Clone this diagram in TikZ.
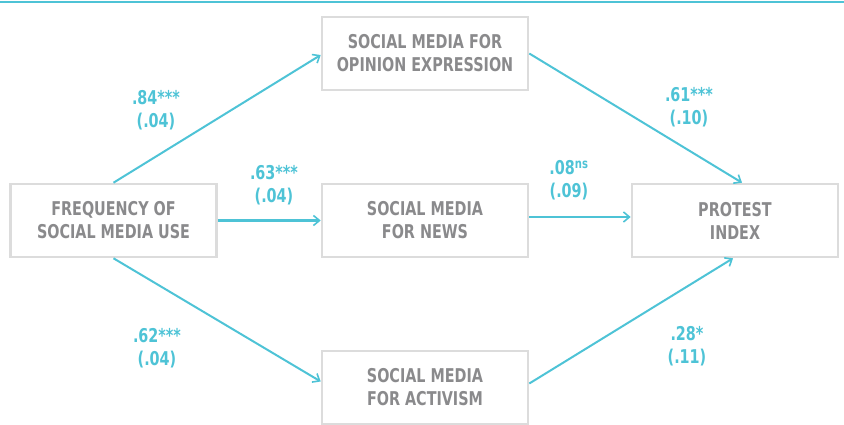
\documentclass[tikz,border=0pt]{standalone}
\usepackage{fontspec}
\setmainfont{DejaVu Sans Condensed}[BoldFont={DejaVu Sans Condensed Bold}, FakeStretch=0.84]
\usetikzlibrary{arrows.meta}
\definecolor{cy}{HTML}{4EC3D6}
\definecolor{bxgray}{HTML}{DCDCDC}
\definecolor{txgray}{HTML}{8A8A8C}
\tikzset{
  box/.style={draw=bxgray, line width=2.6pt, minimum width=206pt, minimum height=73pt,
    align=center, text=txgray, font=\bfseries\fontsize{19}{23}\selectfont, inner sep=0pt},
  conn/.style={draw=cy, line width=2pt, -{Straight Barb[length=6pt,width=10pt,line width=1.6pt]}},
  coef/.style={text=cy, align=center, font=\bfseries\fontsize{19}{23}\selectfont, inner sep=0pt}
}
\begin{document}
\begin{tikzpicture}[x=1pt,y=-1pt]
\useasboundingbox (0,0) rectangle (844,425);
\draw[cy, line width=2.4pt] (0,2) coordinate (tl) -- (844,2) coordinate (tr);
\node[box] (freq) at (113.5,220.5) {FREQUENCY OF\\SOCIAL MEDIA USE};
\node[box] (opin) at (425,53.5) {SOCIAL MEDIA FOR\\OPINION EXPRESSION};
\node[box] (news) at (425,220.5) {SOCIAL MEDIA\\FOR NEWS};
\node[box] (act) at (425,387.5) {SOCIAL MEDIA\\FOR ACTIVISM};
\node[box] (prot) at (735,220.5) {PROTEST\\INDEX};
\draw[conn] (freq.north) -- ([yshift=-1.5]opin.west);
\draw[conn] (freq.east) -- (news.west);
\draw[conn] (freq.south) -- ([yshift=6]act.west);
\draw[conn] (opin.east) -- ([xshift=7]prot.north);
\draw[conn] ([yshift=3.5]news.east) -- ([yshift=3.5]prot.west);
\draw[conn] ([yshift=4]act.east) -- ([xshift=-2]prot.south);
\node[coef] (c1) at (156,110) {.84***\\(.04)};
\node[coef] (c2) at (274,185) {.63***\\(.04)};
\node[coef] (c3) at (157,348) {.62***\\(.04)};
\node[coef] (c4) at (689,107) {.61***\\(.10)};
\node[coef] (c5) at (569,180) {.08\textsuperscript{ns}\\(.09)};
\node[coef] (c6) at (687,346) {.28*\\(.11)};
\end{tikzpicture}
\end{document}
